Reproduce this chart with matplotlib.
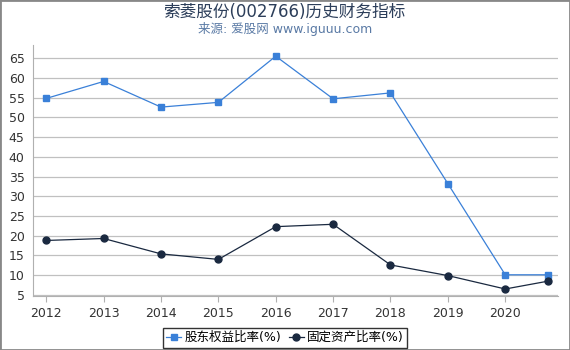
import matplotlib
matplotlib.use("Agg")
import matplotlib.pyplot as plt
from matplotlib.patches import Rectangle

plt.rcParams['font.family'] = ['DejaVu Sans', 'Noto Sans CJK SC']

years = [2012, 2013, 2014, 2015, 2016, 2017, 2018, 2019, 2020, 2020.75]
tick_years = [2012, 2013, 2014, 2015, 2016, 2017, 2018, 2019, 2020]
tick_labels = ["2012", "2013", "2014", "2015", "2016", "2017", "2018", "2019", "2020"]
equity_ratio = [54.8, 59.1, 52.6, 53.8, 65.5, 54.7, 56.2, 33.2, 10.1, 10.1]
fixed_asset_ratio = [18.8, 19.3, 15.4, 14.0, 22.3, 22.9, 12.6, 9.9, 6.5, 8.5]
y_ticks = [5, 10, 15, 20, 25, 30, 35, 40, 45, 50, 55, 60, 65]

fig = plt.figure(figsize=(5.7, 3.5), dpi=100)
ax = fig.add_axes([0.058, 0.154, 0.921, 0.717])

ax.plot(years, equity_ratio, color='#3a80d8', lw=0.9, marker='s', ms=5,
        label='股东权益比率(%)', zorder=3)
ax.plot(years, fixed_asset_ratio, color='#1a2940', lw=0.9, marker='o', ms=5,
        label='固定资产比率(%)', zorder=3)

ax.set_xlim(2011.77, 2020.92)
ax.set_ylim(4.7, 68.3)
ax.set_yticks(y_ticks)
ax.set_xticks(tick_years)
ax.set_xticklabels(tick_labels)
ax.yaxis.grid(True, color='#c0c0c0', lw=0.9)
ax.set_axisbelow(True)
for s in ['top', 'right']:
    ax.spines[s].set_visible(False)
for s in ['left', 'bottom']:
    ax.spines[s].set_color('#b0b0b0')
ax.tick_params(axis='both', labelsize=9, colors='#333333', length=4, color='#b0b0b0')
ax.tick_params(axis='y', length=0, pad=6)

fig.text(0.5, 0.965, '索菱股份(002766)历史财务指标', ha='center', va='center',
         fontsize=12, color='#2c3e5a')
fig.text(0.5, 0.918, '来源: 爱股网 www.iguuu.com', ha='center', va='center',
         fontsize=9, color='#5a7aa5')

leg = fig.legend(loc='center', bbox_to_anchor=(0.5, 0.035), ncol=2, fontsize=9,
                 frameon=True, fancybox=False, edgecolor='black', handlelength=1.2,
                 handletextpad=0.25, columnspacing=0.6, borderpad=0.3, borderaxespad=0.2)
leg.get_frame().set_linewidth(1.0)

fig.patches.append(Rectangle((0, 0), 1, 1, transform=fig.transFigure, fill=False,
                             edgecolor='#888888', lw=2))

fig.savefig('out.png', dpi=100)
